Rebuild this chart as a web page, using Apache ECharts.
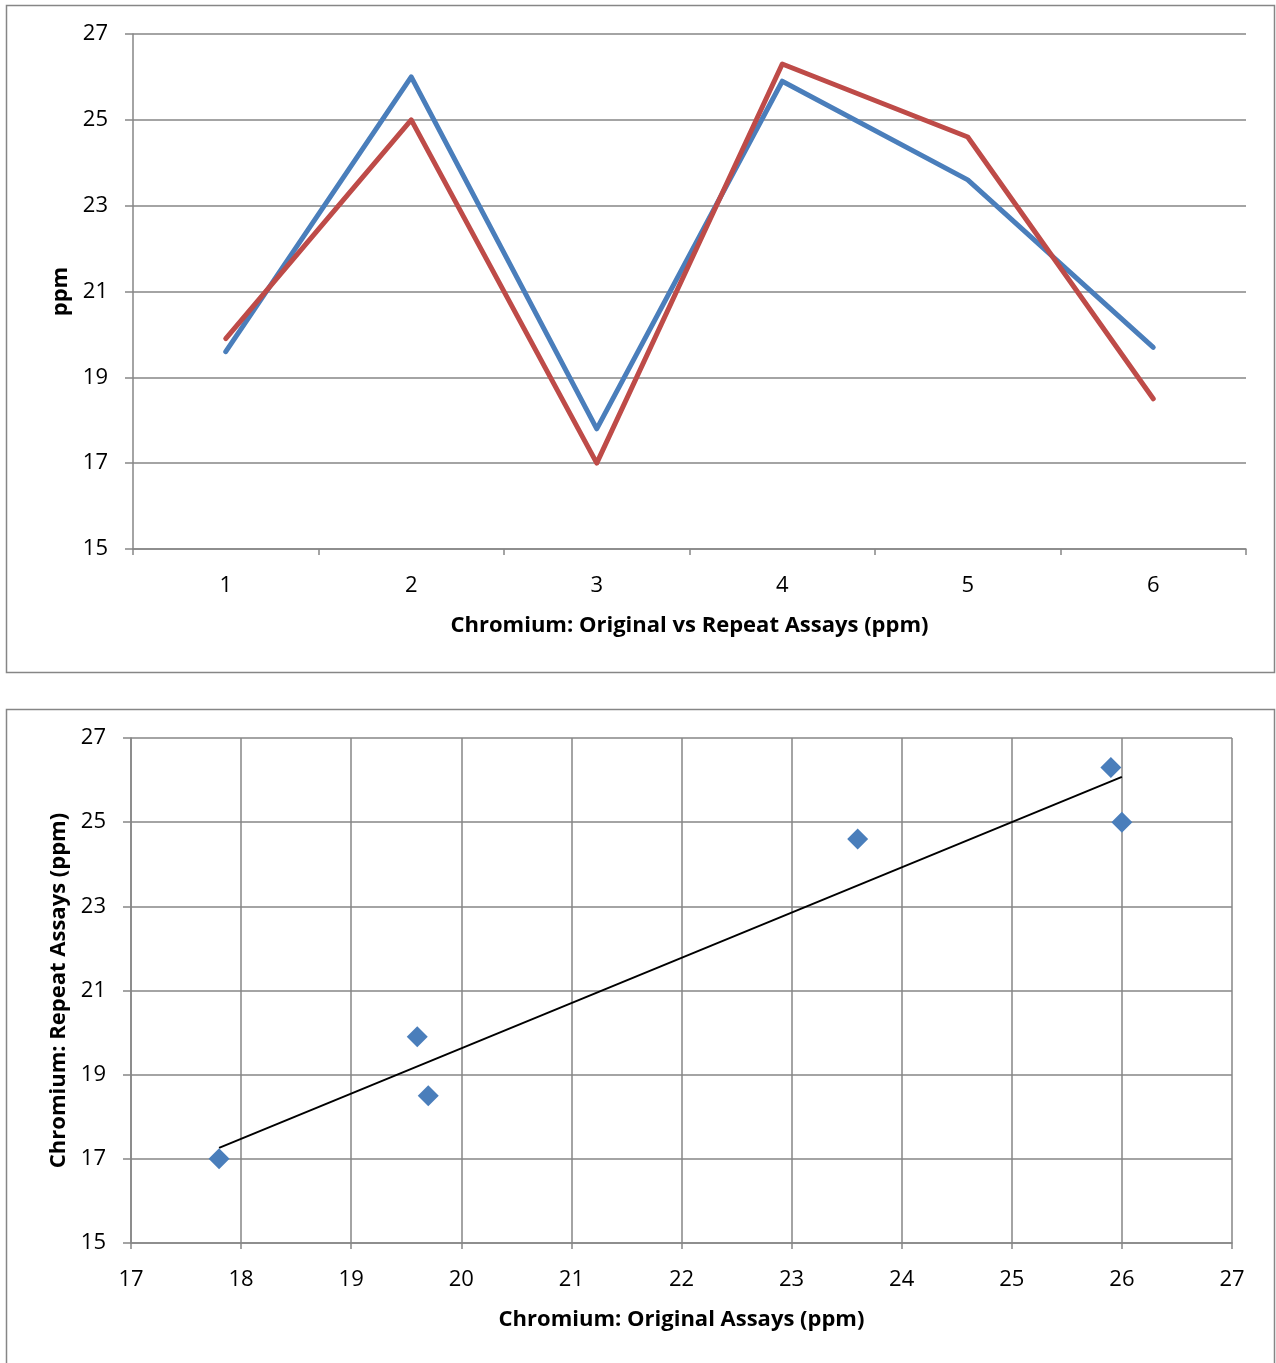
<!DOCTYPE html>
<html>
<head>
<meta charset="utf-8">
<script src="https://cdn.jsdelivr.net/npm/echarts@6/dist/echarts.min.js"></script>
<style>
html,body{margin:0;padding:0;background:#fff;}
#c{width:1276px;height:1363px;}
</style>
</head>
<body>
<div id="c"></div>
<script>
const categories = ['1','2','3','4','5','6'];
const original = [19.6, 26.0, 17.8, 25.9, 23.6, 19.7];
const repeat = [19.9, 25.0, 17.0, 26.3, 24.6, 18.5];
const yTitleTop = 'ppm';
const xTitleTop = 'Chromium: Original vs Repeat Assays (ppm)';
const xTitleBottom = 'Chromium: Original Assays (ppm)';
const yTitleBottom = 'Chromium: Repeat Assays (ppm)';

const FONT = 'Open Sans';
const AX = '#868686';
const BLUE = '#4A7EBB';
const RED = '#BE4B48';

// scatter points from the two arrays
const scatterData = original.map((x, i) => [x, repeat[i]]);

// linear trendline (least squares) over data range
const n = original.length;
const mx = original.reduce((a, b) => a + b, 0) / n;
const my = repeat.reduce((a, b) => a + b, 0) / n;
let sxy = 0, sxx = 0;
for (let i = 0; i < n; i++) { sxy += (original[i] - mx) * (repeat[i] - my); sxx += (original[i] - mx) ** 2; }
const slope = sxy / sxx, icpt = my - slope * mx;
const xmin = Math.min(...original), xmax = Math.max(...original);
const trend = [[xmin, icpt + slope * xmin], [xmax, icpt + slope * xmax]];

const chart = echarts.init(document.getElementById('c'), null, {renderer: 'canvas'});
const labelStyle = {color: '#000', fontFamily: FONT, fontSize: 22};
const nameStyle = {color: '#000', fontFamily: FONT, fontSize: 22, fontWeight: 'bold'};

chart.setOption({
  animation: false,
  backgroundColor: '#fff',
  graphic: [
    {type: 'rect', shape: {x: 6.5, y: 5.5, width: 1268, height: 667}, style: {fill: 'none', stroke: AX, lineWidth: 1.5}, z: 0},
    {type: 'rect', shape: {x: 6.5, y: 709.5, width: 1268, height: 700}, style: {fill: 'none', stroke: AX, lineWidth: 1.5}, z: 0}
  ],
  grid: [
    {left: 133, top: 34, width: 1113, height: 515},
    {left: 131, top: 738, width: 1101, height: 505}
  ],
  xAxis: [
    {
      gridIndex: 0, type: 'category', data: categories, boundaryGap: true,
      axisLine: {lineStyle: {color: AX, width: 1.5}},
      axisTick: {show: true, length: 6, lineStyle: {color: AX, width: 1.5}},
      axisLabel: Object.assign({margin: 26}, labelStyle),
      splitLine: {show: false},
      name: xTitleTop, nameLocation: 'middle', nameGap: 66, nameTextStyle: nameStyle
    },
    {
      gridIndex: 1, type: 'value', min: 17, max: 27, interval: 1,
      axisLine: {lineStyle: {color: AX, width: 1.5}},
      axisTick: {show: true, length: 6, lineStyle: {color: AX, width: 1.5}},
      axisLabel: Object.assign({margin: 26}, labelStyle),
      splitLine: {show: true, lineStyle: {color: AX, width: 1.5}},
      name: xTitleBottom, nameLocation: 'middle', nameGap: 66, nameTextStyle: nameStyle
    }
  ],
  yAxis: [
    {
      gridIndex: 0, type: 'value', min: 15, max: 27, interval: 2,
      axisLine: {show: true, lineStyle: {color: AX, width: 1.5}},
      axisTick: {show: true, length: 8, lineStyle: {color: AX, width: 1.5}},
      axisLabel: Object.assign({margin: 25}, labelStyle),
      splitLine: {show: true, lineStyle: {color: AX, width: 1.5}},
      name: yTitleTop, nameLocation: 'middle', nameGap: 61, nameRotate: 90, nameTextStyle: nameStyle
    },
    {
      gridIndex: 1, type: 'value', min: 15, max: 27, interval: 2,
      axisLine: {show: true, lineStyle: {color: AX, width: 1.5}},
      axisTick: {show: true, length: 8, lineStyle: {color: AX, width: 1.5}},
      axisLabel: Object.assign({margin: 25}, labelStyle),
      splitLine: {show: true, lineStyle: {color: AX, width: 1.5}},
      name: yTitleBottom, nameLocation: 'middle', nameGap: 61, nameRotate: 90, nameTextStyle: nameStyle
    }
  ],
  series: [
    {
      type: 'line', xAxisIndex: 0, yAxisIndex: 0, data: original, showSymbol: false,
      lineStyle: {color: BLUE, width: 5, cap: 'round', join: 'round'}, z: 3
    },
    {
      type: 'line', xAxisIndex: 0, yAxisIndex: 0, data: repeat, showSymbol: false,
      lineStyle: {color: RED, width: 5, cap: 'round', join: 'round'}, z: 4
    },
    {
      type: 'line', xAxisIndex: 1, yAxisIndex: 1, data: trend, showSymbol: false,
      lineStyle: {color: '#000', width: 2}, z: 3
    },
    {
      type: 'scatter', xAxisIndex: 1, yAxisIndex: 1, data: scatterData,
      symbol: 'diamond', symbolSize: 21,
      itemStyle: {color: BLUE, opacity: 1}, z: 4
    }
  ]
});
</script>
</body>
</html>
